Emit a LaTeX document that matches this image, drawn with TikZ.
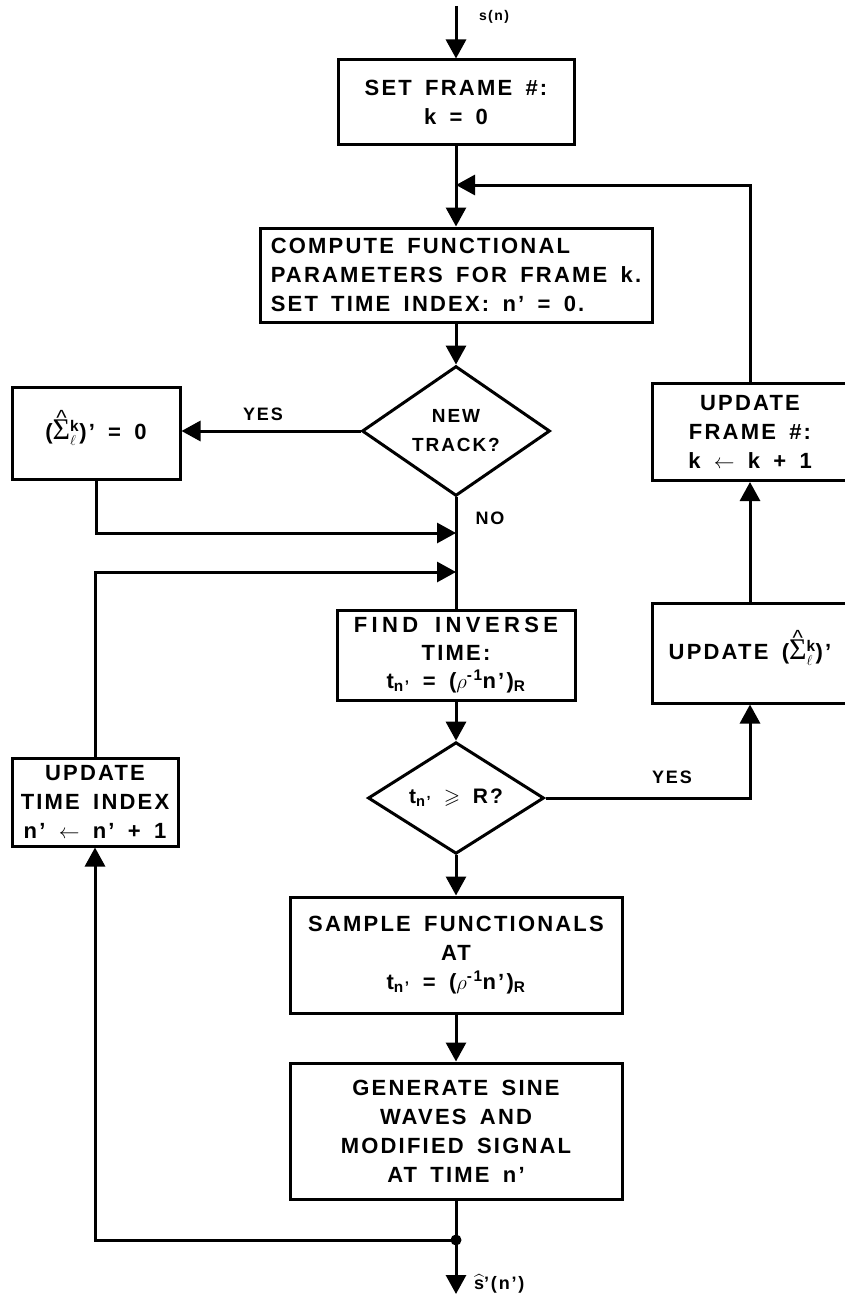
\documentclass[tikz,border=0pt]{standalone}
\usepackage{fontspec}
\usepackage{amsmath,amssymb}
\usetikzlibrary{arrows.meta,shapes.geometric,calc}
\newfontfamily\chartfont{Liberation Sans}[LetterSpace=10,WordSpace=1.6]
\newfontfamily\sigmafont{Liberation Serif}
% t with the subscript n'
\newcommand\tnp{t$_{\text{n’}}$}
% capital sigma with a caret on top, superscript k and subscript l
\newcommand\sumhat{$\mbox{\raisebox{0pt}[13pt][5pt]{\ooalign{{\sigmafont\mdseries\fontsize{30}{30}\selectfont Σ}\cr
  \hidewidth\raisebox{14pt}{\mdseries\textasciicircum}\hidewidth\cr}}}^{\text{k}}_{\ell}$}
\tikzset{
  box/.style={draw, line width=3pt, inner sep=0pt, align=center,
    font=\chartfont\bfseries\fontsize{22}{29}\selectfont},
  dec/.style={draw, diamond, line width=3pt, inner sep=0pt, align=center,
    font=\chartfont\bfseries\fontsize{19}{29}\selectfont},
  wire/.style={line width=3pt},
  flow/.style={wire, -{Triangle[width=20pt,length=19pt]}},
  tag/.style={inner sep=0pt, font=\chartfont\bfseries\fontsize{18}{20}\selectfont},
  smalltag/.style={inner sep=0pt, font=\chartfont\bfseries\fontsize{14}{16}\selectfont}
}
\begin{document}
\begin{tikzpicture}[x=1pt,y=-1pt]
\useasboundingbox (0,0) rectangle (845,1298);
\fill[white] (0,0) rectangle (845,1298);

% main column
\coordinate (in) at (456,6);
\node[box, minimum width=236pt, minimum height=84pt] (setk) at (456,102) {SET FRAME \#:\\k = 0};
\coordinate (j0) at (456,185);
\node[box, minimum width=392pt, minimum height=94pt, align=left] (comp) at (456,275)
  {COMPUTE FUNCTIONAL\\PARAMETERS FOR FRAME k.\\SET TIME INDEX: n’ = 0.};
\node[dec, minimum width=188pt, minimum height=126pt] (newt) at (456,431) {NEW\\TRACK?};
\coordinate (j1) at (456,533);
\coordinate (j2) at (456,572);
\node[box, minimum width=238pt, minimum height=90pt, font=\chartfont\bfseries\fontsize{22}{28}\selectfont]
  (find) at (456,655) {\addfontfeatures{LetterSpace=20}FIND INVERSE\\TIME:\\\tnp{} = ($\rho^{\text{-1}}$n’)$_{\text{R}}$};
\node[dec, minimum width=176pt, minimum height=106pt, font=\chartfont\bfseries\fontsize{21}{29}\selectfont]
  (tdec) at (456,798) {\tnp{} $\geqslant$ R?};
\node[box, minimum width=332pt, minimum height=116pt] (samp) at (456,955)
  {SAMPLE FUNCTIONALS\\AT\\\tnp{} = ($\rho^{\text{-1}}$n’)$_{\text{R}}$};
\node[box, minimum width=332pt, minimum height=136pt] (gen) at (456,1131)
  {GENERATE SINE\\WAVES AND\\MODIFIED SIGNAL\\AT TIME n’};
\coordinate (dot) at (456,1240);
\coordinate (out) at (456,1294);

% left column
\node[box, minimum width=168pt, minimum height=92pt] (zero) at (96,433) {(\sumhat)’ = 0};
\node[box, minimum width=166pt, minimum height=88pt] (upn) at (95,802)
  {UPDATE\\TIME INDEX\\n’ $\leftarrow$ n’ + 1};

% right column (runs past the page edge)
\node[box, minimum width=196pt, minimum height=97pt] (updF) at (750,432)
  {UPDATE\\FRAME \#:\\k $\leftarrow$ k + 1};
\node[box, minimum width=196pt, minimum height=100pt] (updS) at (750,653) {UPDATE (\sumhat)’};

% labels
\node[smalltag] (sin) at (494,17) {s(n)};
\node[tag] (yes1) at (263,414) {YES};
\node[tag] (no) at (490,518) {NO};
\node[tag] (yes2) at (672,777) {YES};
\node[tag, anchor=west] (sout) at (474,1284) {$\widehat{\text{s}}$’(n’)};

% connectors
\draw[flow] (in) -- (setk.north);
\draw[flow] (setk.south) -- (comp.north);
\draw[flow] (updF.north) |- (j0);
\draw[flow] (comp.south) -- (newt.north);
\draw[flow] (newt.west) -- (newt.west -| zero.east);
\draw[wire] (newt.south) -- (find.north);
\draw[flow] (zero.south) |- (j1);
\draw[flow] (upn.north) |- (j2);
\draw[flow] (find.south) -- (tdec.north);
\draw[flow] (tdec.east) -| (updS.south);
\draw[flow] (updS.north) -- (updF.south);
\draw[flow] (tdec.south) -- (samp.north);
\draw[flow] (samp.south) -- (gen.north);
\draw[wire] (gen.south) -- (dot);
\draw[flow] (dot) -- (out);
\draw[flow] (dot) -| (upn.south);
\fill (dot) circle[radius=5.5pt];
\end{tikzpicture}
\end{document}
